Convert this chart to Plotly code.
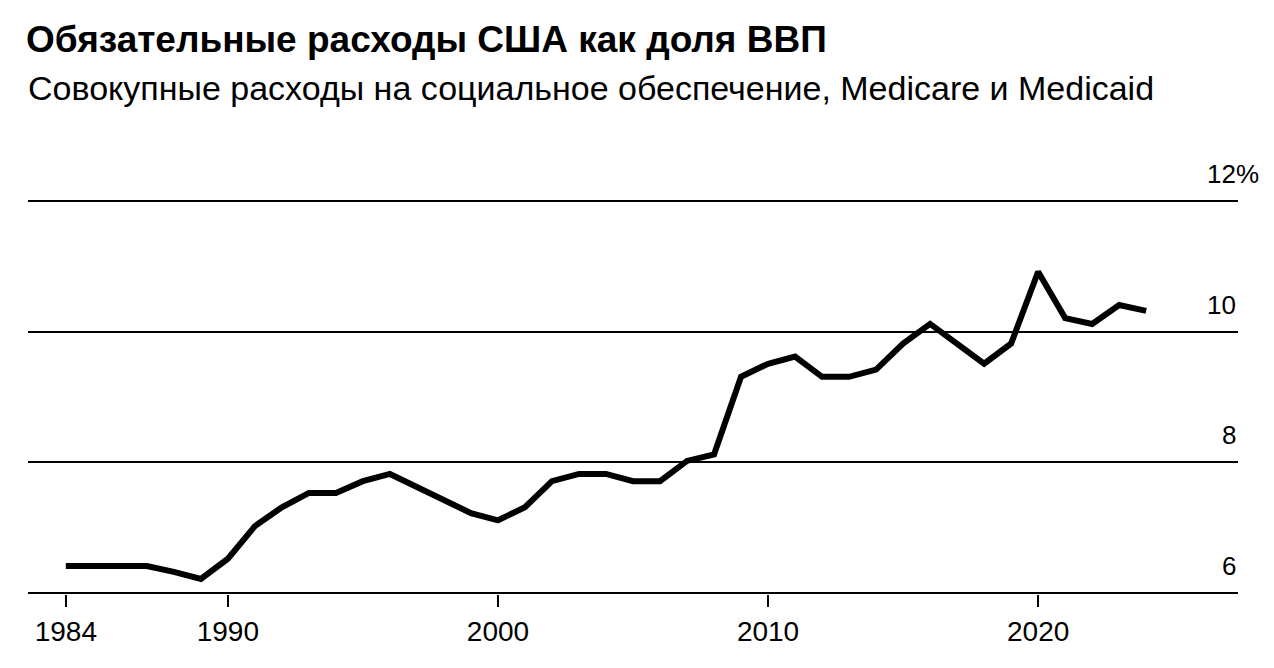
import plotly.graph_objects as go

years = list(range(1984, 2025))
values = [6.41, 6.41, 6.41, 6.41, 6.32, 6.21, 6.52, 7.02, 7.31, 7.53,
          7.53, 7.71, 7.82, 7.62, 7.42, 7.22, 7.11, 7.31, 7.71, 7.82,
          7.82, 7.71, 7.71, 8.02, 8.12, 9.31, 9.51, 9.62, 9.31, 9.31,
          9.42, 9.82, 10.12, 9.82, 9.51, 9.82, 10.92, 10.21, 10.12, 10.41,
          10.32]
x_ticks = [1984, 1990, 2000, 2010, 2020]
y_ticks = [6, 8, 10, 12]
y_labels = ["6", "8", "10", "12%"]

title = "Обязательные расходы США как доля ВВП"
subtitle = "Совокупные расходы на социальное обеспечение, Medicare и Medicaid"

FONT = "Liberation Sans"
W, H = 1274, 668

fig = go.Figure()
fig.add_trace(go.Scatter(x=years, y=values, mode="lines",
                         line=dict(color="#000000", width=6),
                         hoverinfo="skip", showlegend=False))

fig.update_layout(
    width=W, height=H,
    margin=dict(l=28, r=36, t=200, b=74),
    paper_bgcolor="white", plot_bgcolor="white",
    font=dict(family=FONT, color="#000000"),
    title=dict(text=title, x=26 / W, xanchor="left", y=1 - 39 / H,
               yanchor="middle",
               font=dict(family=FONT, size=37, color="#000000", weight=600)),
    xaxis=dict(range=[1982.6, 2027.4], tickvals=x_ticks,
               ticktext=[str(t) for t in x_ticks],
               showgrid=False, zeroline=False, showline=False,
               ticks="outside", ticklen=12, tickwidth=1.5, tickcolor="#000000",
               tickfont=dict(family=FONT, size=28, color="#000000")),
    yaxis=dict(range=[5.98, 12.02], tickvals=y_ticks, showticklabels=False,
               showgrid=True, gridcolor="#000000", gridwidth=1.5,
               zeroline=False, showline=False),
)

for v, lab in zip(y_ticks, y_labels):
    shift = 23 if lab.endswith("%") else 0
    fig.add_annotation(text=lab, xref="paper", yref="y", x=1.0, y=v,
                       xanchor="right", yanchor="bottom", yshift=10,
                       xshift=shift, showarrow=False,
                       font=dict(family=FONT, size=26, color="#000000"))
fig.add_annotation(text=subtitle, xref="paper", yref="paper",
                   x=0, xanchor="left", xshift=-2, y=1, yanchor="middle",
                   yshift=200 - 88,
                   showarrow=False,
                   font=dict(family=FONT, size=34, color="#000000"))

fig.write_html("out.html")
